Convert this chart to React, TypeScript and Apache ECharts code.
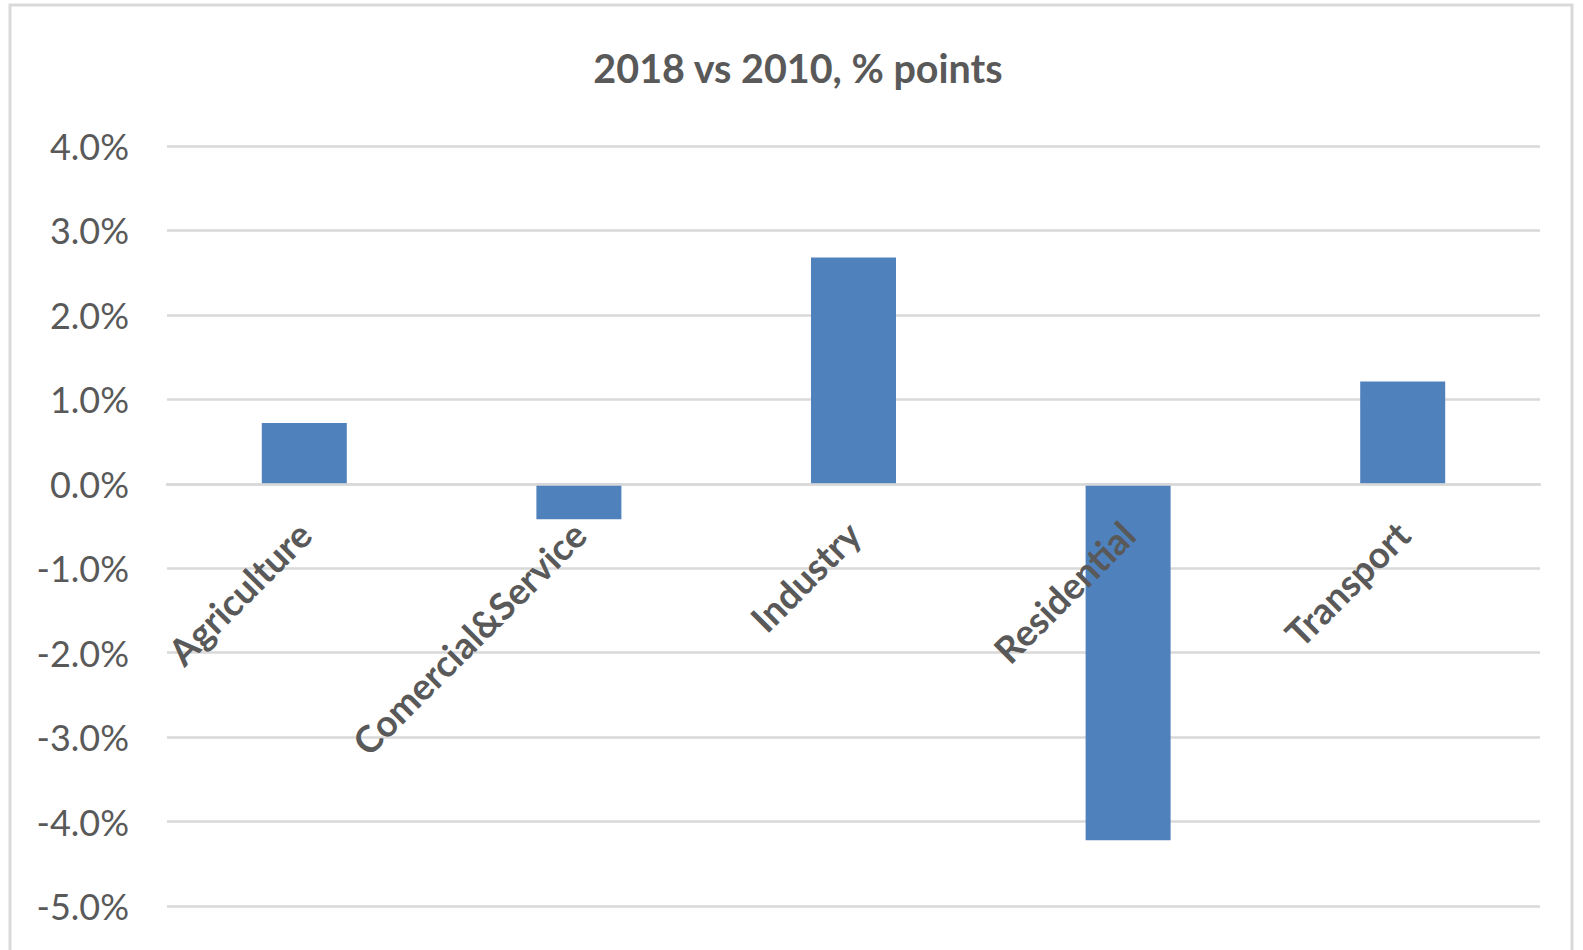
import React, { useEffect, useRef } from "react";
import * as echarts from "echarts";

const categories = ["Agriculture", "Comercial&Service", "Industry", "Residential", "Transport"];
const values = [0.72, -0.42, 2.68, -4.22, 1.21];
const titleText = "2018 vs 2010, % points";
const yMin = -5;
const yMax = 4;
const yStep = 1;

const GRID_TOP = 146;
const GRID_BOTTOM = 44;
const CHART_H = 950;

export default function App() {
  const ref = useRef<HTMLDivElement>(null);
  useEffect(() => {
    if (!ref.current) return;
    const chart = echarts.init(ref.current, null, { renderer: "svg" });
    const gridH = CHART_H - GRID_TOP - GRID_BOTTOM;
    const zeroFromBottom = (gridH * (0 - yMin)) / (yMax - yMin);
    chart.setOption({
      animation: false,
      backgroundColor: "#ffffff",
      title: {
        text: titleText,
        left: 793,
        textAlign: "center",
        top: 42,
        textStyle: { fontFamily: "Lato", fontWeight: "bold", fontSize: 39.5, color: "#595959" },
      },
      graphic: [
        {
          type: "rect",
          shape: { x: 10, y: 5, width: 1562, height: 960 },
          style: { fill: "none", stroke: "#d9d9d9", lineWidth: 3 },
          silent: true,
        },
      ],
      grid: { left: 167, right: 43, top: GRID_TOP, bottom: GRID_BOTTOM, containLabel: false, outerBoundsMode: "none" },
      xAxis: {
        type: "category",
        data: categories,
        position: "bottom",
        offset: -zeroFromBottom,
        z: 10,
        axisLine: { show: true, onZero: false, lineStyle: { color: "#d9d9d9", width: 2.5 } },
        axisTick: { show: false },
        axisLabel: {
          rotate: 45,
          interval: 0,
          margin: 44,
          fontFamily: "Lato",
          fontWeight: "bold",
          fontSize: 37,
          color: "#595959",
        },
      },
      yAxis: {
        type: "value",
        min: yMin,
        max: yMax,
        interval: yStep,
        axisLine: { show: false },
        axisTick: { show: false },
        splitLine: { lineStyle: { color: "#d9d9d9", width: 2.5 } },
        axisLabel: {
          margin: 38,
          fontFamily: "Lato",
          fontSize: 36,
          color: "#595959",
          formatter: (v: number) => v.toFixed(1) + "%",
        },
      },
      series: [
        {
          type: "bar",
          data: values,
          barWidth: 85,
          z: 2,
          itemStyle: { color: "#4F81BD" },
        },
      ],
    });
    return () => chart.dispose();
  }, []);
  return <div ref={ref} style={{ position: "absolute", left: 0, top: 0, width: 1583, height: 950 }} />;
}
